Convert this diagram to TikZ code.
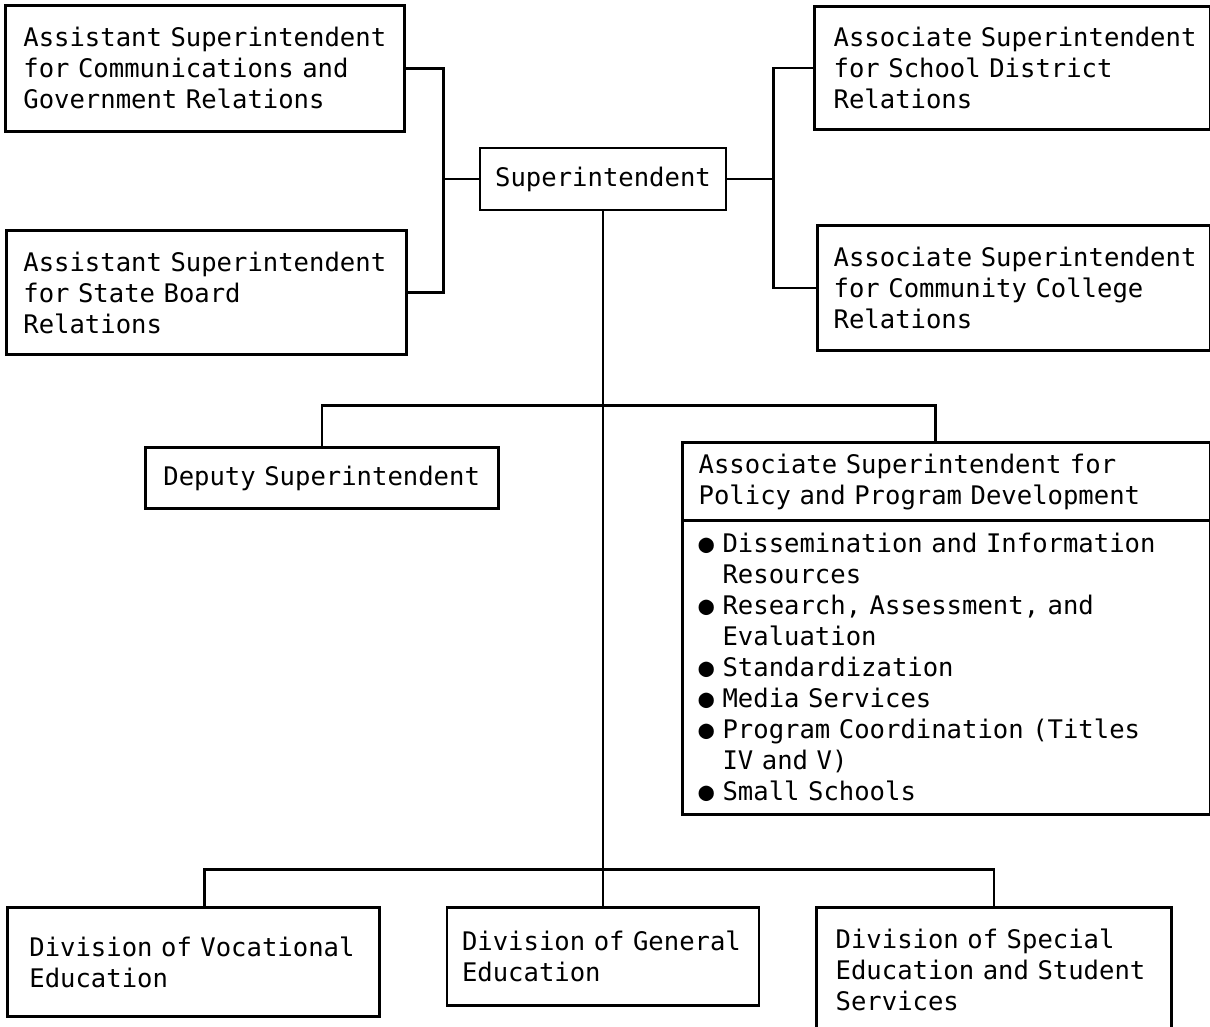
\documentclass[tikz,border=0pt]{standalone}
\usepackage{fontspec}
\newfontfamily\orgfont{DejaVu Sans Mono}[WordSpace={1,0,0}]
\usetikzlibrary{positioning}
\tikzset{pad/.style={execute at begin node={\leftskip=#1}}}

\begin{document}
\begin{tikzpicture}[node distance=1cm, line width=1.5pt]
	\tikzstyle{box}=[draw, rectangle, inner sep=0pt, align=left, font=\orgfont\fontsize{14.56pt}{17.64pt}\selectfont, pad=0.36cm]
	\tikzstyle{sbox}=[draw, rectangle, inner sep=0pt, font=\orgfont\fontsize{14.56pt}{17.64pt}\selectfont]
	\useasboundingbox (0,0) rectangle (24.2,-20.52);

	\node[sbox, minimum width=4.92cm, minimum height=1.24cm] (sup) at (12.06,-3.58) {Superintendent};

	\node[box, text width=7.98cm, minimum height=2.52cm] (acomm) [above left=0.28cm and 1.46cm of sup] {Assistant Superintendent\\for Communications and\\Government Relations};
	\node[box, text width=8cm, minimum height=2.48cm, pad=0.34cm] (aboard) [below left=0.36cm and 1.42cm of sup] {Assistant Superintendent\\for State Board\\Relations};
	\node[box, text width=7.92cm, minimum height=2.46cm, pad=0.38cm] (adist) [above right=0.32cm and 1.72cm of sup] {Associate Superintendent\\for School District\\Relations};
	\node[box, text width=7.86cm, minimum height=2.5cm, pad=0.32cm] (acoll) [below right=0.26cm and 1.78cm of sup] {Associate Superintendent\\for Community College\\Relations};

	\node[box, text width=7.06cm, minimum height=1.22cm] (dep) [below left=4.7cm and -0.42cm of sup] {Deputy Superintendent};
	\node[box, text width=10.56cm, minimum height=1.56cm, pad=0.32cm] (apol) [below right=4.6cm and -0.92cm of sup] {Associate Superintendent for\\Policy and Program Development};
	\node[box, text width=10.56cm, minimum height=5.88cm, pad=0.32cm] (apoll) [below=-1.5pt of apol] {● Dissemination and Information\\\hphantom{● }Resources\\● Research, Assessment, and\\\hphantom{● }Evaluation\\● Standardization\\● Media Services\\● Program Coordination (Titles\\\hphantom{● }IV and V)\\● Small Schools};

	\node[box, text width=6.24cm, minimum height=1.96cm, pad=0.3cm] (gen) [below=13.9cm of sup] {Division of General\\Education};
	\node[box, text width=7.44cm, minimum height=2.18cm, pad=0.44cm] (voc) [below left=0cm and 1.3cm of gen.north west] {Division of Vocational\\Education};
	\node[box, text width=7.1cm, minimum height=2.48cm, pad=0.38cm] (spec) [below right=0cm and 1.1cm of gen.north east] {Division of Special\\Education and Student\\Services};

	\coordinate[shift={(-0.7,0)}] (lj) at (sup.west);
	\coordinate[shift={(0.92,0)}] (rj) at (sup.east);
	\coordinate[shift={(0,-3.88)}] (mb) at (sup.south);
	\coordinate[shift={(0,-13.16)}] (bb) at (sup.south);
	\coordinate[shift={(-0.22,0)}] (pn) at (apol.north);
	\coordinate[shift={(0.22,0)}] (vn) at (voc.north);

	\draw (acomm.east) -| (lj) |- (aboard.east);
	\draw (lj) -- (sup.west);
	\draw (adist.west) -| (rj) |- (acoll.west);
	\draw (sup.east) -- (rj);
	\draw (sup.south) -- (bb);
	\draw (dep.north) |- (mb) -| (pn);
	\draw (vn) |- (bb) -| (spec.north);
	\draw (bb) -- (gen.north);
\end{tikzpicture}
\end{document}
